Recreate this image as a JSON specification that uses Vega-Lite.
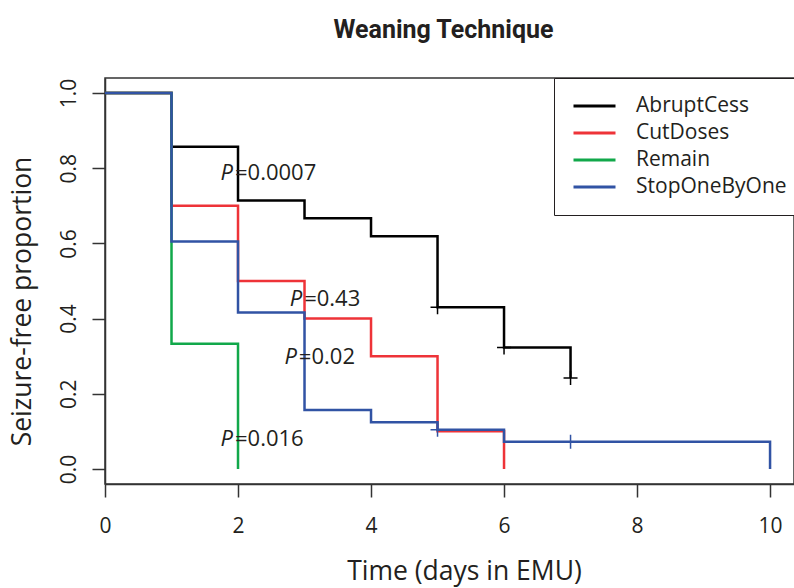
{
  "$schema": "https://vega.github.io/schema/vega-lite/v6.json",
  "width": 689,
  "height": 406,
  "autosize": {"type": "none"},
  "padding": {"left": 105, "top": 78, "right": 0, "bottom": 104},
  "background": "white",
  "title": {
    "text": "Weaning Technique",
    "font": "Roboto",
    "fontSize": 25,
    "fontWeight": "bold",
    "color": "#231f20",
    "anchor": "middle",
    "dx": -6,
    "offset": 15,
    "baseline": "alphabetic"
  },
  "datasets": {
    "curves": [
      {"group": "AbruptCess", "time": 0, "surv": 1.0},
      {"group": "AbruptCess", "time": 1, "surv": 0.857},
      {"group": "AbruptCess", "time": 2, "surv": 0.714},
      {"group": "AbruptCess", "time": 3, "surv": 0.667},
      {"group": "AbruptCess", "time": 4, "surv": 0.619},
      {"group": "AbruptCess", "time": 5, "surv": 0.43},
      {"group": "AbruptCess", "time": 6, "surv": 0.323},
      {"group": "AbruptCess", "time": 7, "surv": 0.242},
      {"group": "CutDoses", "time": 0, "surv": 1.0},
      {"group": "CutDoses", "time": 1, "surv": 0.70},
      {"group": "CutDoses", "time": 2, "surv": 0.50},
      {"group": "CutDoses", "time": 3, "surv": 0.40},
      {"group": "CutDoses", "time": 4, "surv": 0.30},
      {"group": "CutDoses", "time": 5, "surv": 0.10},
      {"group": "CutDoses", "time": 6, "surv": 0.0},
      {"group": "Remain", "time": 0, "surv": 1.0},
      {"group": "Remain", "time": 1, "surv": 0.333},
      {"group": "Remain", "time": 2, "surv": 0.0},
      {"group": "StopOneByOne", "time": 0, "surv": 1.0},
      {"group": "StopOneByOne", "time": 1, "surv": 0.605},
      {"group": "StopOneByOne", "time": 2, "surv": 0.416},
      {"group": "StopOneByOne", "time": 3, "surv": 0.157},
      {"group": "StopOneByOne", "time": 4, "surv": 0.124},
      {"group": "StopOneByOne", "time": 5, "surv": 0.104},
      {"group": "StopOneByOne", "time": 6, "surv": 0.0726},
      {"group": "StopOneByOne", "time": 10, "surv": 0.0}
    ],
    "censor": [
      {"group": "AbruptCess", "time": 5, "surv": 0.43},
      {"group": "AbruptCess", "time": 6, "surv": 0.323},
      {"group": "AbruptCess", "time": 7, "surv": 0.242},
      {"group": "StopOneByOne", "time": 5, "surv": 0.104},
      {"group": "StopOneByOne", "time": 7, "surv": 0.0726}
    ],
    "pvals": [
      {"x": 1.94, "y": 0.786, "p": "P", "v": "=0.0007"},
      {"x": 2.98, "y": 0.453, "p": "P", "v": "=0.43"},
      {"x": 2.9, "y": 0.298, "p": "P", "v": "=0.02"},
      {"x": 1.94, "y": 0.081, "p": "P", "v": "=0.016"}
    ]
  },
  "layer": [
    {
      "data": {"name": "curves"},
      "mark": {"type": "line", "interpolate": "step-after", "strokeWidth": 2.5},
      "encoding": {
        "x": {
          "field": "time", "type": "quantitative",
          "scale": {"domain": [0, 10.36], "nice": false, "zero": false},
          "axis": {
            "values": [0, 2, 4, 6, 8, 10],
            "format": "d",
            "title": "Time (days in EMU)",
            "tickSize": 13,
            "labelPadding": 18,
            "labelBaseline": "top",
            "labelFlush": false,
            "titleX": 359,
            "titleY": 87,
            "titleAlign": "center",
            "titleBaseline": "middle"
          }
        },
        "y": {
          "field": "surv", "type": "quantitative",
          "scale": {"domain": [-0.04, 1.04], "nice": false, "zero": false},
          "axis": {
            "values": [0, 0.2, 0.4, 0.6, 0.8, 1.0],
            "format": ".1f",
            "title": "Seizure-free proportion",
            "tickSize": 13,
            "labelAngle": -90,
            "labelAlign": "center",
            "labelBaseline": "alphabetic",
            "labelPadding": 17,
            "labelFlush": false,
            "titleX": -83,
            "titleY": 223,
            "titleAngle": -90,
            "titleAlign": "center",
            "titleBaseline": "middle"
          }
        },
        "color": {
          "field": "group", "type": "nominal",
          "scale": {
            "domain": ["AbruptCess", "CutDoses", "Remain", "StopOneByOne"],
            "range": ["#000000", "#ee3338", "#11a84a", "#3153a4"]
          },
          "legend": {
            "title": null,
            "orient": "none",
            "legendX": 449,
            "legendY": 0,
            "strokeColor": "#231f20",
            "fillColor": "white",
            "padding": 18,
            "labelFont": "Open Sans",
            "labelFontSize": 21,
            "labelColor": "#231f20",
            "labelLimit": 400,
            "symbolType": "stroke",
            "symbolSize": 1764,
            "symbolStrokeWidth": 3,
            "clipHeight": 20,
            "rowPadding": 6,
            "labelOffset": 19
          }
        }
      }
    },
    {
      "data": {"name": "censor"},
      "mark": {"type": "point", "shape": "M-1,0H1M0,-1V1", "size": 196, "strokeWidth": 1.5, "filled": false, "opacity": 1},
      "encoding": {
        "x": {"field": "time", "type": "quantitative"},
        "y": {"field": "surv", "type": "quantitative"},
        "color": {"field": "group", "type": "nominal", "legend": null}
      }
    },
    {
      "data": {"name": "pvals"},
      "mark": {"type": "text", "font": "Open Sans", "fontSize": 22, "fontStyle": "italic", "align": "right", "baseline": "middle", "color": "#231f20", "dx": -1},
      "encoding": {
        "x": {"field": "x", "type": "quantitative"},
        "y": {"field": "y", "type": "quantitative"},
        "text": {"field": "p"}
      }
    },
    {
      "data": {"name": "pvals"},
      "mark": {"type": "text", "font": "Open Sans", "fontSize": 22, "align": "left", "baseline": "middle", "color": "#231f20", "dx": 1},
      "encoding": {
        "x": {"field": "x", "type": "quantitative"},
        "y": {"field": "y", "type": "quantitative"},
        "text": {"field": "v"}
      }
    }
  ],
  "config": {
    "view": {"stroke": "#333333", "strokeWidth": 1.5},
    "axis": {
      "grid": false,
      "domainColor": "#333333",
      "domainWidth": 1.5,
      "tickColor": "#333333",
      "tickWidth": 1.5,
      "labelFont": "Open Sans",
      "labelFontSize": 21,
      "labelColor": "#231f20",
      "labelOverlap": false,
      "titleFont": "Open Sans",
      "titleFontSize": 26.5,
      "titleFontWeight": "normal",
      "titleColor": "#231f20"
    }
  }
}
